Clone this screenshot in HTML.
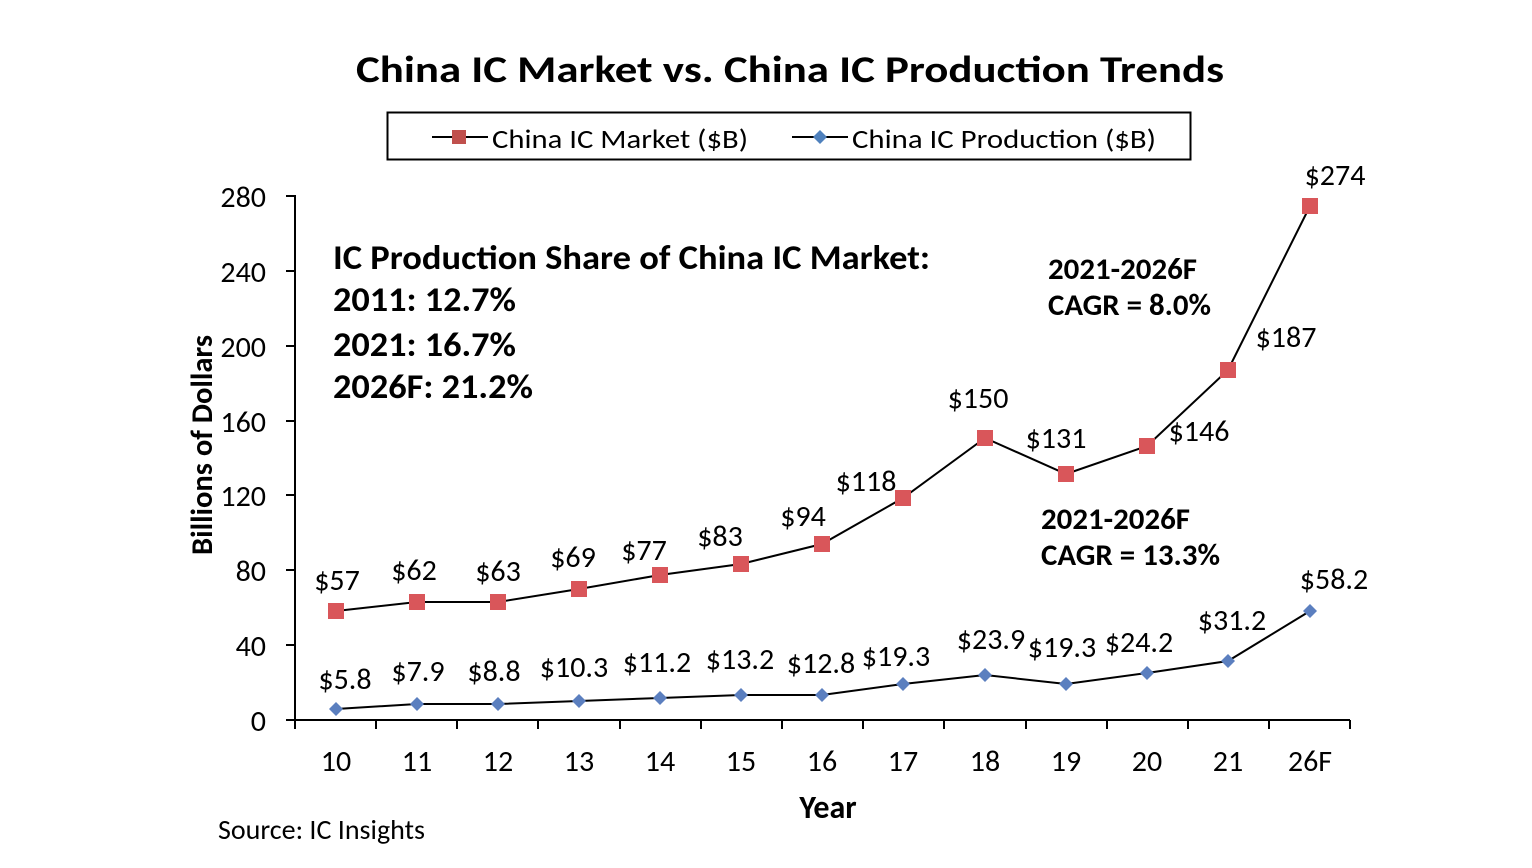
<!DOCTYPE html>
<html><head><meta charset="utf-8"><style>
html,body{margin:0;padding:0;background:#fff;}
svg{display:block;font-family:"Carlito","Liberation Sans",sans-serif;}
</style></head><body>
<svg width="1532" height="868" viewBox="0 0 1532 868" xmlns="http://www.w3.org/2000/svg">
<text x="790" y="82" font-size="37" font-weight="bold" text-anchor="middle" textLength="868" lengthAdjust="spacingAndGlyphs">China IC Market vs. China IC Production Trends</text>
<rect x="387.5" y="112.5" width="803" height="47" fill="none" stroke="#000" stroke-width="2"/>
<line x1="432" y1="137" x2="488" y2="137" stroke="#000" stroke-width="2"/>
<rect x="452" y="130" width="14" height="14" fill="#c0504d"/>
<text x="492" y="148" font-size="27" textLength="256" lengthAdjust="spacingAndGlyphs">China IC Market ($B)</text>
<line x1="792" y1="137" x2="848" y2="137" stroke="#000" stroke-width="2"/>
<polygon points="820,130 827,137 820,144 813,137" fill="#4f81bd"/>
<text x="852" y="148" font-size="27" textLength="304" lengthAdjust="spacingAndGlyphs">China IC Production ($B)</text>
<g stroke="#000" stroke-width="2">
<line x1="295" y1="195" x2="295" y2="720"/>
<line x1="295" y1="720" x2="1350" y2="720"/>
<line x1="286" y1="196" x2="295" y2="196"/><line x1="286" y1="271" x2="295" y2="271"/><line x1="286" y1="346" x2="295" y2="346"/><line x1="286" y1="421" x2="295" y2="421"/><line x1="286" y1="495" x2="295" y2="495"/><line x1="286" y1="570" x2="295" y2="570"/><line x1="286" y1="645" x2="295" y2="645"/><line x1="286" y1="720" x2="295" y2="720"/>
<line x1="295" y1="720" x2="295" y2="729"/><line x1="376" y1="720" x2="376" y2="729"/><line x1="457" y1="720" x2="457" y2="729"/><line x1="538" y1="720" x2="538" y2="729"/><line x1="620" y1="720" x2="620" y2="729"/><line x1="701" y1="720" x2="701" y2="729"/><line x1="782" y1="720" x2="782" y2="729"/><line x1="863" y1="720" x2="863" y2="729"/><line x1="944" y1="720" x2="944" y2="729"/><line x1="1026" y1="720" x2="1026" y2="729"/><line x1="1107" y1="720" x2="1107" y2="729"/><line x1="1188" y1="720" x2="1188" y2="729"/><line x1="1269" y1="720" x2="1269" y2="729"/><line x1="1350" y1="720" x2="1350" y2="729"/>
</g>
<g font-size="30" text-anchor="end">
<text x="266" y="207">280</text><text x="266" y="282">240</text><text x="266" y="357">200</text><text x="266" y="432">160</text><text x="266" y="506">120</text><text x="266" y="581">80</text><text x="266" y="656">40</text><text x="266" y="731">0</text>
</g>
<g font-size="30" text-anchor="middle">
<text x="336" y="771">10</text><text x="417" y="771">11</text><text x="498" y="771">12</text><text x="579" y="771">13</text><text x="660" y="771">14</text><text x="741" y="771">15</text><text x="822" y="771">16</text><text x="903" y="771">17</text><text x="985" y="771">18</text><text x="1066" y="771">19</text><text x="1147" y="771">20</text><text x="1228" y="771">21</text><text x="1310" y="771">26F</text>
</g>
<text x="828" y="818" font-size="32" font-weight="bold" text-anchor="middle">Year</text>
<text transform="translate(212,445) rotate(-90)" font-size="30" font-weight="bold" text-anchor="middle" textLength="220" lengthAdjust="spacingAndGlyphs">Billions of Dollars</text>
<text x="218" y="839" font-size="28" textLength="207" lengthAdjust="spacingAndGlyphs">Source: IC Insights</text>
<polyline fill="none" stroke="#000" stroke-width="2" points="336,611 417,602 498,602 579,589 660,575 741,564 822,544 903,498 985,438 1066,474 1147,446 1228,370 1310,206"/>
<g fill="#d9565a">
<rect x="328" y="603" width="16" height="16"/><rect x="409" y="594" width="16" height="16"/><rect x="490" y="594" width="16" height="16"/><rect x="571" y="581" width="16" height="16"/><rect x="652" y="567" width="16" height="16"/><rect x="733" y="556" width="16" height="16"/><rect x="814" y="536" width="16" height="16"/><rect x="895" y="490" width="16" height="16"/><rect x="977" y="430" width="16" height="16"/><rect x="1058" y="466" width="16" height="16"/><rect x="1139" y="438" width="16" height="16"/><rect x="1220" y="362" width="16" height="16"/><rect x="1302" y="198" width="16" height="16"/>
</g>
<polyline fill="none" stroke="#000" stroke-width="2" points="336,709 417,704 498,704 579,701 660,698 741,695 822,695 903,684 985,675 1066,684 1147,673 1228,661 1310,611"/>
<g fill="#5b7fbf">
<polygon points="336,702 343,709 336,716 329,709"/><polygon points="417,697 424,704 417,711 410,704"/><polygon points="498,697 505,704 498,711 491,704"/><polygon points="579,694 586,701 579,708 572,701"/><polygon points="660,691 667,698 660,705 653,698"/><polygon points="741,688 748,695 741,702 734,695"/><polygon points="822,688 829,695 822,702 815,695"/><polygon points="903,677 910,684 903,691 896,684"/><polygon points="985,668 992,675 985,682 978,675"/><polygon points="1066,677 1073,684 1066,691 1059,684"/><polygon points="1147,666 1154,673 1147,680 1140,673"/><polygon points="1228,654 1235,661 1228,668 1221,661"/><polygon points="1310,604 1317,611 1310,618 1303,611"/>
</g>
<g font-size="30" text-anchor="middle">
<text x="337" y="590">$57</text><text x="414" y="580">$62</text><text x="498" y="581">$63</text><text x="573" y="567">$69</text><text x="644" y="560">$77</text><text x="720" y="546">$83</text><text x="803" y="526">$94</text><text x="866" y="491">$118</text><text x="978" y="408">$150</text><text x="1056" y="448">$131</text><text x="1199" y="441">$146</text><text x="1286" y="347">$187</text><text x="1335" y="185">$274</text>
<text x="345" y="689">$5.8</text><text x="418" y="681">$7.9</text><text x="494" y="681">$8.8</text><text x="574" y="677">$10.3</text><text x="657" y="672">$11.2</text><text x="740" y="669">$13.2</text><text x="821" y="673">$12.8</text><text x="896" y="666">$19.3</text><text x="991" y="649">$23.9</text><text x="1062" y="657">$19.3</text><text x="1139" y="652">$24.2</text><text x="1232" y="630">$31.2</text><text x="1334" y="589">$58.2</text>
</g>
<g font-size="34" font-weight="bold">
<text x="333" y="269" textLength="597" lengthAdjust="spacingAndGlyphs">IC Production Share of China IC Market:</text>
<text x="333" y="311" textLength="183" lengthAdjust="spacingAndGlyphs">2011: 12.7%</text>
<text x="333" y="356" textLength="183" lengthAdjust="spacingAndGlyphs">2021: 16.7%</text>
<text x="333" y="398" textLength="200" lengthAdjust="spacingAndGlyphs">2026F: 21.2%</text>
</g>
<g font-size="30" font-weight="bold">
<text x="1048" y="279" textLength="149" lengthAdjust="spacingAndGlyphs">2021-2026F</text>
<text x="1048" y="315" textLength="163" lengthAdjust="spacingAndGlyphs">CAGR = 8.0%</text>
<text x="1041" y="529" textLength="149" lengthAdjust="spacingAndGlyphs">2021-2026F</text>
<text x="1041" y="565" textLength="179" lengthAdjust="spacingAndGlyphs">CAGR = 13.3%</text>
</g>
</svg>
</body></html>
